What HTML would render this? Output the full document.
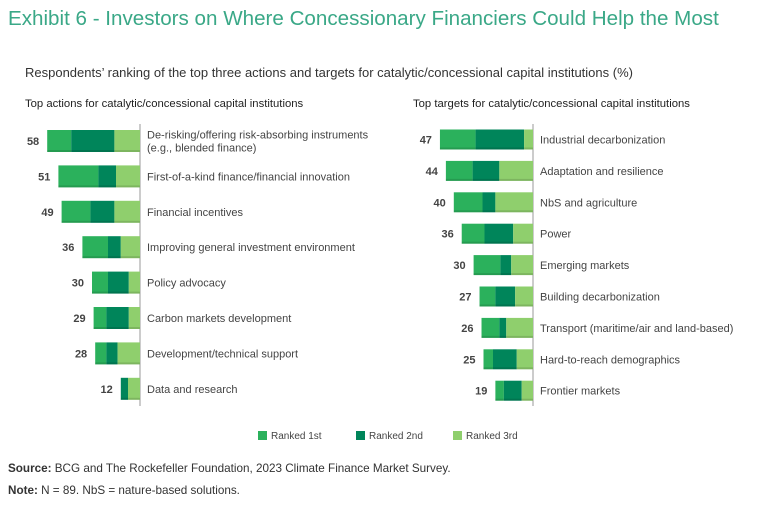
<!DOCTYPE html>
<html><head><meta charset="utf-8"><style>
body{margin:0;width:768px;height:509px;background:#fff;font-family:"Liberation Sans",sans-serif;position:relative;overflow:hidden}
.t{position:absolute;white-space:nowrap}
</style></head><body>
<div class="t" style="left:8px;top:7px;font-size:20.6px;color:#3aa887">Exhibit 6 - Investors on Where Concessionary Financiers Could Help the Most</div>
<div class="t" style="left:25px;top:65px;font-size:13px;color:#333">Respondents’ ranking of the top three actions and targets for catalytic/concessional capital institutions (%)</div>
<div class="t" style="left:25px;top:98px;font-size:11.3px;color:#222">Top actions for catalytic/concessional capital institutions</div>
<div class="t" style="left:413px;top:98px;font-size:11.3px;color:#222">Top targets for catalytic/concessional capital institutions</div>
<svg id="chart" width="768" height="509" style="position:absolute;left:0;top:0"></svg>
<div class="t" style="left:8px;top:462px;font-size:11.7px;color:#333"><b>Source:</b> BCG and The Rockefeller Foundation, 2023 Climate Finance Market Survey.</div>
<div class="t" style="left:8px;top:484px;font-size:11.7px;color:#333"><b>Note:</b> N = 89. NbS = nature-based solutions.</div>
<script>
const leftCats=["De-risking/offering risk-absorbing instruments|(e.g., blended finance)","First-of-a-kind finance/financial innovation","Financial incentives","Improving general investment environment","Policy advocacy","Carbon markets development","Development/technical support","Data and research"];
const leftTotals=[58,51,49,36,30,29,28,12];
const left1=[15,25,18,16,10,8,7,0];
const left2=[27,11,15,8,13,14,7,4.5];
const left3=[16,15,16,12,7,7,14,7.5];
const rightCats=["Industrial decarbonization","Adaptation and resilience","NbS and agriculture","Power","Emerging markets","Building decarbonization","Transport (maritime/air and land-based)","Hard-to-reach demographics","Frontier markets"];
const rightTotals=[47,44,40,36,30,27,26,25,19];
const right1=[18,13.5,14.5,11.5,13.5,8,9,4.8,4.3];
const right2=[24.5,13.5,6.5,14.5,5.5,10,3.5,12,9];
const right3=[4.5,17,19,10,11,9,13.5,8.2,5.7];
const colors=["#2bb15c","#00855a","#8fcf6d"];
const svg=document.getElementById('chart');
const NS="http://www.w3.org/2000/svg";
function mk(tag,attrs){const e=document.createElementNS(NS,tag);for(const k in attrs)e.setAttribute(k,attrs[k]);svg.appendChild(e);return e;}
function panel(cats,totals,segs,axisX,scale,y0,step,bh,prefix){
  const ln=mk('line',{x1:axisX,x2:axisX,y1:124,y2:406,stroke:'#999','stroke-width':1});
  
  
  cats.forEach((c,i)=>{
    const yc=y0+i*step;
    const tot=segs[0][i]+segs[1][i]+segs[2][i];
    let x=axisX-tot*scale;
    for(let s=0;s<3;s++){
      const w=segs[s][i]*scale;
      if(w>0){
        const r=mk('rect',{x:x,y:yc-bh/2,width:w,height:bh,fill:colors[s]});
        
        
      }
      x+=w;
    }
    const sh=mk('rect',{x:axisX-tot*scale,y:yc+bh/2-2,width:tot*scale,height:2,fill:'#000','fill-opacity':0.12});
    
    
    const v=mk('text',{x:axisX-tot*scale-8,y:yc+4,'text-anchor':'end','font-size':11,'font-weight':'bold',fill:'#444','font-family':'Liberation Sans'});
    v.textContent=totals[i];
    
    
    const parts=c.split('|');
    parts.forEach((p,j)=>{
      const t=mk('text',{x:axisX+7,y:yc+4+(j-(parts.length-1)/2)*13,'font-size':11,fill:'#444','font-family':'Liberation Sans'});
      t.textContent=p;
      
      
    });
  });
}
panel(leftCats,leftTotals,[left1,left2,left3],140,1.6,141,35.4,22,'left');
panel(rightCats,rightTotals,[right1,right2,right3],533,1.98,139.5,31.4,20,'right');
const legendLabels=["Ranked 1st","Ranked 2nd","Ranked 3rd"];
const legendX=[258,356,453];
legendLabels.forEach((l,i)=>{
  const r=mk('rect',{x:legendX[i],y:431,width:9,height:9,fill:colors[i]});
  
  
  const t=mk('text',{x:legendX[i]+13,y:439,'font-size':10,fill:'#444','font-family':'Liberation Sans'});
  t.textContent=l;
  
  
});
</script>
</body></html>
